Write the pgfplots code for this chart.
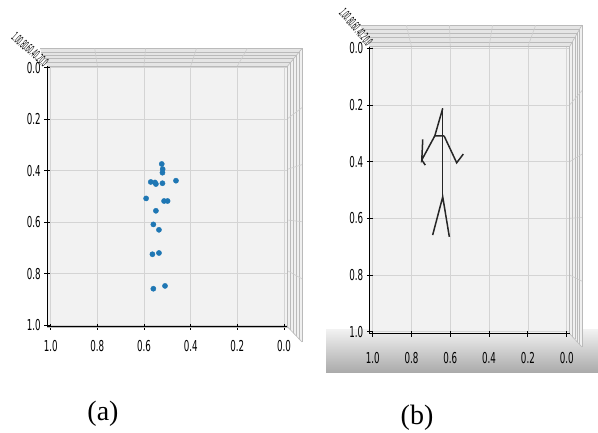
\documentclass[border=0pt]{standalone}
\usepackage{pgfplots}
\pgfplotsset{compat=1.18}
\usepackage{fontspec}
\setmainfont{Liberation Serif}
\newfontfamily\dv{DejaVu Sans}
\definecolor{mplblue}{RGB}{31,119,180}
\newcommand\tl[1]{\scalebox{0.58}[1]{\fontsize{15}{16}\selectfont\dv #1}}
\newcommand\drawpanes[8]{%
  \def\pL{#1}\def\pT{#2}\def\pR{#3}\def\pB{#4}\def\qL{#5}\def\qT{#6}\def\qR{#7}\def\qB{#8}%
  \fill[black!10] (\pL,\pT)--(\pR,\pT)--(\qR,\qT)--(\qL,\qT)--cycle;
  \fill[black!6] (\pR,\pT)--(\qR,\qT)--(\qR,\qB)--(\pR,\pB)--cycle;
  \foreach \t in {0.22,0.42,0.6,0.8,1.0}{%
    \pgfmathsetmacro\xl{\pL+\t*(\qL-\pL)}%
    \pgfmathsetmacro\xr{\pR+\t*(\qR-\pR)}%
    \pgfmathsetmacro\yt{\pT+\t*(\qT-\pT)}%
    \pgfmathsetmacro\yb{\pB+\t*(\qB-\pB)}%
    \draw[black!27, line width=0.6pt] (\xl,\yt)--(\xr,\yt)--(\xr,\yb);
  }
  \draw[black!27, line width=0.6pt] (\pR,\pB)--(\qR,\qB);
  \draw[black!27, line width=0.6pt] (\pR,\pT)--(\qR,\qT);
}
\newcommand\gridext[2]{%
  \foreach \gx in {#1}{\pgfmathsetmacro\xx{\qL+(\gx-\pL)/(\pR-\pL)*(\qR-\qL)}\draw[black!20, line width=0.6pt] (\gx,\pT)--(\xx,\qT);}
  \foreach \gy in {#2}{\pgfmathsetmacro\yy{\qT+(\gy-\pT)/(\pB-\pT)*(\qB-\qT)}\draw[black!20, line width=0.6pt] (\pR,\gy)--(\qR,\yy);}
}
% cramped z-axis tick labels seen edge-on (one text run)
\newcommand\zblob[3]{%
  \node[rotate=#3, inner sep=0, font=\fontsize{11}{11}\selectfont\dv, black] at (#1,#2)
    {\scalebox{0.42}[1.15]{1.00.80.60.40.20.0}};
}
\pgfplotsset{
  mplstyle/.style={
    scale only axis, anchor=south west,
    xmin=-0.015, xmax=1.015, ymin=-0.006, ymax=1.007,
    x dir=reverse, y dir=reverse,
    xtick={0,0.2,0.4,0.6,0.8,1},
    ytick={0,0.2,0.4,0.6,0.8,1},
    xtick pos=left, ytick pos=left,
    xticklabels={\tl{0.0},\tl{0.2},\tl{0.4},\tl{0.6},\tl{0.8},\tl{1.0}},
    yticklabels={\tl{0.0},\tl{0.2},\tl{0.4},\tl{0.6},\tl{0.8},\tl{1.0}},
    grid=major, grid style={black!17, line width=0.6pt},
    axis background/.style={fill=black!5},
    axis line style={black!27, line width=0.6pt},
    tick align=center, major tick length=6pt,
    tick style={black, line width=0.8pt},
    clip=false,
  }
}
\begin{document}
\begin{tikzpicture}
\path[use as bounding box] (0pt,0pt) rectangle (598pt,-432pt);
\shade[top color=black!5, bottom color=black!33] (326pt,-329pt) rectangle (598pt,-372pt);
\begin{scope}[x=1pt,y=-1pt]
  \drawpanes{47.2}{66.2}{287.5}{326.8}{40}{48.5}{302}{342}
  \gridext{97.4,144,190.7,237.3}{118.7,169.3,220,270.7}
  \zblob{30}{49.5}{-42}
\end{scope}
\begin{scope}[x=1pt,y=-1pt]
  \drawpanes{369.8}{46.6}{569.6}{333.7}{360}{25}{582}{347}
  \gridext{411.5,450.3,489.1,527.9}{105,161.7,218.3,275}
  \zblob{356}{27}{-50}
\end{scope}
% panel (a)
\begin{axis}[mplstyle, at={(47.2pt,-326.8pt)}, width=240.3pt, height=260.6pt,
  xticklabel style={yshift=-7pt}]
  \addplot[only marks, mark=*, mark size=2.6pt, mplblue] coordinates {
    (0.524,0.374) (0.520,0.394) (0.521,0.408) (0.571,0.444) (0.553,0.446)
    (0.549,0.452) (0.521,0.449) (0.463,0.439) (0.591,0.508) (0.514,0.518)
    (0.499,0.518) (0.549,0.556) (0.560,0.609) (0.536,0.630) (0.564,0.725)
    (0.536,0.720) (0.560,0.859) (0.510,0.848)
  };
  \draw[black, line width=0.9pt] (axis description cs:0,1)--(axis description cs:0,0)--(axis description cs:1,0);
\end{axis}
% panel (b)
\begin{axis}[mplstyle, at={(369.8pt,-333.7pt)}, width=199.8pt, height=287.1pt,
  xticklabel style={yshift=-12pt}]
  \addplot[black!85, line width=1.5pt, no marks] coordinates {(0.639,0.212) (0.639,0.524)};
  \addplot[black!85, line width=1.5pt, no marks] coordinates {(0.639,0.212) (0.680,0.309) (0.632,0.309)};
  \addplot[black!85, line width=1.5pt, no marks] coordinates {(0.742,0.321) (0.747,0.394) (0.680,0.309)};
  \addplot[black!85, line width=1.5pt, no marks] coordinates {(0.747,0.394) (0.729,0.412)};
  \addplot[black!85, line width=1.5pt, no marks] coordinates {(0.632,0.309) (0.567,0.404) (0.533,0.373)};
  \addplot[black!85, line width=1.5pt, no marks] coordinates {(0.691,0.659) (0.639,0.524) (0.605,0.665)};
  \draw[black, line width=0.9pt] (axis description cs:0,1)--(axis description cs:0,0)--(axis description cs:1,0);
\end{axis}
\node[font=\fontsize{28}{30}\selectfont] at (103pt,-414pt) {(a)};
\node[font=\fontsize{28}{30}\selectfont] at (417pt,-418pt) {(b)};
\end{tikzpicture}
\end{document}
